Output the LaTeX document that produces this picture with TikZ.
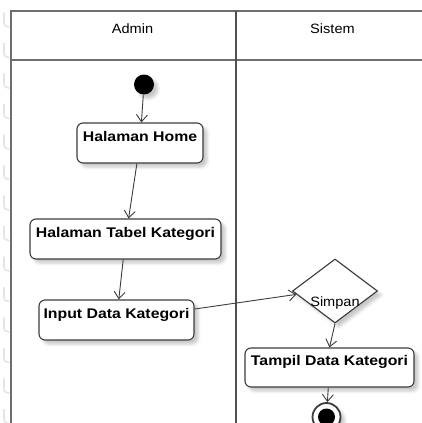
\documentclass[tikz,border=0pt]{standalone}
\usepackage{fontspec}
\setmainfont{Liberation Sans}[FakeStretch=1.08, BoldFeatures={FakeStretch=1.13}]
\usetikzlibrary{arrows.meta,shapes.geometric,shadows.blur}
\definecolor{ink}{HTML}{3C3C3C}
\definecolor{laneline}{HTML}{6E6E6E}
\definecolor{lanemid}{HTML}{505050}
\definecolor{bindmark}{HTML}{E4E4E4}

\begin{document}
\begin{tikzpicture}[x=1pt,y=-1pt,
  softshadow/.style={blur shadow={shadow xshift=4pt, shadow yshift=-4pt,
      shadow blur radius=3pt, shadow opacity=22}},
  lanerule/.style={draw=laneline, line width=2pt},
  header/.style={inner sep=0pt, anchor=base, font=\fontsize{13.5}{15}\selectfont},
  act/.style={draw=ink, line width=1.1pt, rounded corners=6pt, fill=white,
      inner sep=0pt, font=\bfseries\fontsize{14}{16}\selectfont,
      text height=10pt, text depth=14pt, minimum height=40pt, softshadow},
  decision/.style={diamond, draw=ink, line width=1.1pt, fill=white, inner sep=0pt,
      minimum width=85pt, minimum height=64pt, softshadow},
  startdot/.style={circle, fill=black, inner sep=0pt, minimum size=20pt, softshadow},
  endring/.style={circle, draw=ink, line width=1.8pt, fill=white, inner sep=0pt,
      minimum size=28pt, softshadow},
  enddot/.style={circle, fill=black, inner sep=0pt, minimum size=17pt},
  flow/.style={draw=ink, line width=0.9pt, -{Straight Barb[length=7pt,width=11pt]}},
  bindstroke/.style={draw=bindmark, line width=1.6pt, line cap=round}]

\useasboundingbox (0,0) rectangle (422,423);

% faint binding marks along the left edge
\foreach \y in {13,43.5,...,420}
  \draw[bindstroke] (4,\y) -- (4,\y+9) .. controls (4,\y+13) and (6,\y+14) .. (9,\y+14);

% swimlanes
\draw[lanerule] (10.5,423) -- (10.5,10.5) -- (422,10.5);
\draw[lanerule] (10.5,60) -- (422,60);
\draw[lanerule, draw=lanemid, line width=2.2pt] (236,10.5) -- (236,423);

\node[header] (admin) at (132.5,34) {Admin};
\node[header] (sistem) at (332.5,34) {Sistem};

% activities
\node[startdot] (start) at (144,84.5) {};
\node[act, minimum width=126pt] (home) at (140,143) {Halaman Home};
\node[act, minimum width=191pt] (tabel) at (125.5,239) {Halaman Tabel Kategori};
\node[act, minimum width=155pt] (input) at (116.5,320) {Input Data Kategori};
\node[decision] (simpan) at (335,291) {};
\node[header] (simpanlbl) at (335,306.5) {Simpan};
\node[act, minimum width=169pt, minimum height=39pt] (tampil) at (329.5,367.5) {Tampil Data Kategori};
\node[endring] (end) at (326.5,417) {};
\node[enddot] (endcore) at (end.center) {};

% control flow
\draw[flow] (start) -- (home);
\draw[flow] (home) -- (tabel);
\draw[flow] (tabel) -- (input);
\draw[flow] (input.8) -- (simpan.185);
\draw[flow] (simpan.south) -- (tampil.north);
\draw[flow] (tampil) -- (end);

\end{tikzpicture}
\end{document}
